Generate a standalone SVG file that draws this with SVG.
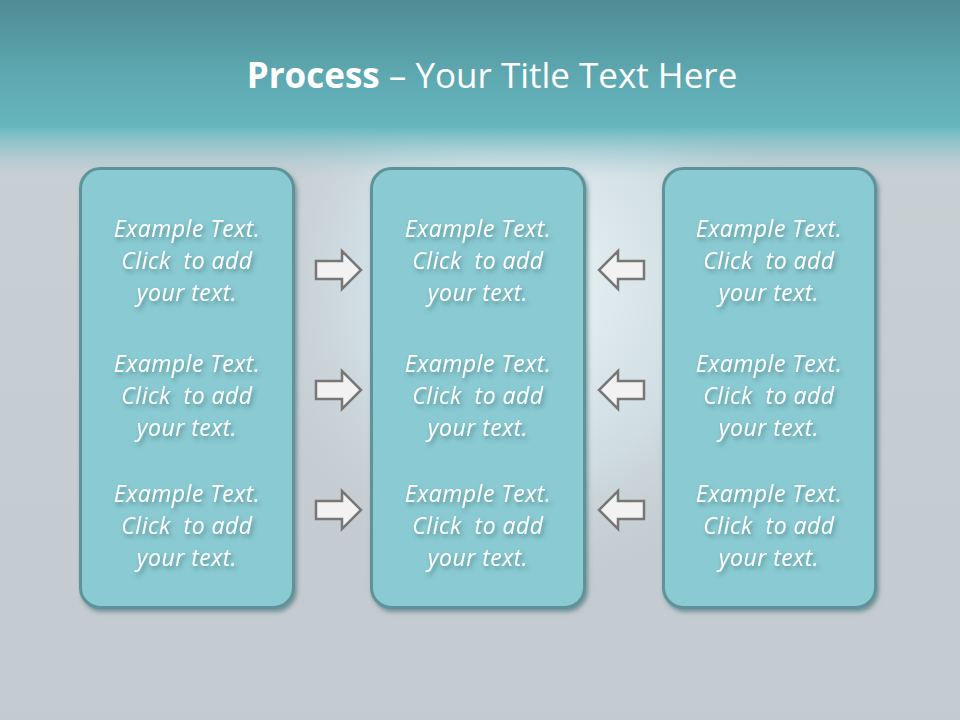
<svg xmlns="http://www.w3.org/2000/svg" width="960" height="720" viewBox="0 0 960 720">
<defs>
<linearGradient id="bg" x1="0" y1="0" x2="0" y2="1">
<stop offset="0" stop-color="#c9d1d5"/>
<stop offset="1" stop-color="#c3cbd0"/>
</linearGradient>
<radialGradient id="glow" cx="0.55" cy="0.3" r="0.5" gradientTransform="translate(0.22 0) scale(0.6 1)">
<stop offset="0" stop-color="#eef6f8"/>
<stop offset="0.6" stop-color="#d4e4e9" stop-opacity="0.7"/>
<stop offset="1" stop-color="#c6ced3" stop-opacity="0"/>
</radialGradient>
<linearGradient id="band" x1="0" y1="0" x2="0" y2="1">
<stop offset="0" stop-color="#4e8c95"/>
<stop offset="0.6" stop-color="#5ea9b1"/>
<stop offset="1" stop-color="#66b6be"/>
</linearGradient>
<linearGradient id="fade" x1="0" y1="0" x2="0" y2="1">
<stop offset="0" stop-color="#6ab9c1"/>
<stop offset="1" stop-color="#a9ccd3" stop-opacity="0"/>
</linearGradient>
<filter id="sh" x="-10%" y="-20%" width="130%" height="150%">
<feDropShadow dx="2" dy="3" stdDeviation="2" flood-color="#2f5f66" flood-opacity="0.55"/>
</filter>
<style>
.box{fill:#8acad2;stroke:#5e9399;stroke-width:3}
.t{font-family:"Open Sans","Noto Sans",sans-serif;font-style:italic;font-size:23px;letter-spacing:0.5px;fill:#ffffff;text-anchor:middle;white-space:pre}
.arr{fill:#f2f2f2;stroke:#777777;stroke-width:2.5;stroke-linejoin:miter}
.title{font-family:"Open Sans","Noto Sans",sans-serif;font-size:35px;fill:#ffffff}
</style>
<path id="ra" d="M0 -9 H26 V-19 L45 0 L26 19 V9 H0 Z"/>
</defs>
<rect width="960" height="720" fill="url(#bg)"/>
<rect y="100" width="960" height="620" fill="url(#glow)"/>
<rect width="960" height="128" fill="url(#band)"/>
<rect y="128" width="960" height="50" fill="url(#fade)"/>
<g id="title">
<text class="title" x="492" y="88" text-anchor="middle"><tspan font-weight="bold">Process</tspan> – Your Title Text Here</text>
</g>
<g id="left-box" filter="url(#sh)">
<rect class="box" x="80.5" y="168.5" width="213" height="439" rx="20"/>
</g>
<g id="left-text" filter="url(#sh)">
<text class="t" x="187" y="237">Example Text.</text>
<text class="t" x="187" y="269">Click  to add</text>
<text class="t" x="187" y="301">your text.</text>
<text class="t" x="187" y="372">Example Text.</text>
<text class="t" x="187" y="404">Click  to add</text>
<text class="t" x="187" y="436">your text.</text>
<text class="t" x="187" y="502">Example Text.</text>
<text class="t" x="187" y="534">Click  to add</text>
<text class="t" x="187" y="566">your text.</text>
</g>
<g id="middle-box" filter="url(#sh)">
<rect class="box" x="371.5" y="168.5" width="213" height="439" rx="20"/>
</g>
<g id="middle-text" filter="url(#sh)">
<text class="t" x="478" y="237">Example Text.</text>
<text class="t" x="478" y="269">Click  to add</text>
<text class="t" x="478" y="301">your text.</text>
<text class="t" x="478" y="372">Example Text.</text>
<text class="t" x="478" y="404">Click  to add</text>
<text class="t" x="478" y="436">your text.</text>
<text class="t" x="478" y="502">Example Text.</text>
<text class="t" x="478" y="534">Click  to add</text>
<text class="t" x="478" y="566">your text.</text>
</g>
<g id="right-box" filter="url(#sh)">
<rect class="box" x="663.5" y="168.5" width="212" height="439" rx="20"/>
</g>
<g id="right-text" filter="url(#sh)">
<text class="t" x="769" y="237">Example Text.</text>
<text class="t" x="769" y="269">Click  to add</text>
<text class="t" x="769" y="301">your text.</text>
<text class="t" x="769" y="372">Example Text.</text>
<text class="t" x="769" y="404">Click  to add</text>
<text class="t" x="769" y="436">your text.</text>
<text class="t" x="769" y="502">Example Text.</text>
<text class="t" x="769" y="534">Click  to add</text>
<text class="t" x="769" y="566">your text.</text>
</g>
<g id="connectors">
<use href="#ra" class="arr" transform="translate(316 270)"/>
<use href="#ra" class="arr" transform="translate(316 390)"/>
<use href="#ra" class="arr" transform="translate(316 510)"/>
<use href="#ra" class="arr" transform="translate(644 270) scale(-1 1)"/>
<use href="#ra" class="arr" transform="translate(644 390) scale(-1 1)"/>
<use href="#ra" class="arr" transform="translate(644 510) scale(-1 1)"/>
</g>
</svg>
